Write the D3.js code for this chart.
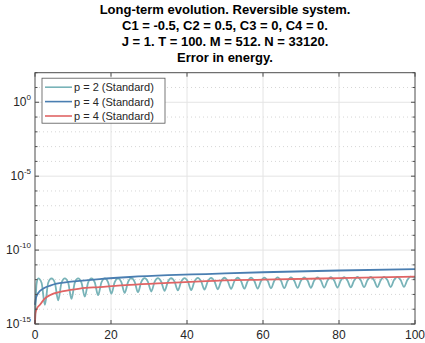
<!DOCTYPE html>
<html>
<head>
<meta charset="utf-8">
<script src="https://cdn.jsdelivr.net/npm/d3@7"></script>
<style>
  body { margin: 0; background: #fff; }
  text { font-family: "Liberation Sans", Arial, sans-serif; }
</style>
</head>
<body>
<div id="canvas"></div>
<script>
// title lines
const titleLines = [
  "Long-term evolution. Reversible system.",
  "C1 = -0.5, C2 = 0.5, C3 = 0, C4 = 0.",
  "J = 1. T = 100. M = 512. N = 33120.",
  "Error in energy."
];
const legendLabels = ["p = 2 (Standard)", "p = 4 (Standard)", "p = 4 (Standard)"];
const xTicks = [0, 20, 40, 60, 80, 100];
const yTickExps = [-15, -10, -5, 0];

// p = 2: [t, log10(error)] (shoulder, trough, shoulder, peak per swing)
const tealPts = [
  [0, -15], [0.4, -12.3], [0.85, -11.92],
  [1.725, -12.21], [2.6, -13.7], [3.475, -12.21], [4.35, -11.92],
  [5.225, -12.21], [6.1, -13.4], [6.975, -12.21], [7.85, -11.92],
  [8.725, -12.2], [9.6, -13.3], [10.475, -12.2], [11.35, -11.92],
  [12.225, -12.2], [13.1, -13.15], [13.975, -12.2], [14.85, -11.92],
  [15.725, -12.19], [16.6, -13.05], [17.475, -12.19], [18.35, -11.91],
  [19.225, -12.17], [20.1, -12.95], [20.975, -12.17], [21.85, -11.91],
  [22.725, -12.17], [23.6, -12.9], [24.475, -12.17], [25.35, -11.9],
  [26.225, -12.15], [27.1, -12.85], [27.975, -12.15], [28.85, -11.9],
  [29.725, -12.15], [30.6, -12.8], [31.475, -12.15], [32.35, -11.9],
  [33.225, -12.14], [34.1, -12.75], [34.975, -12.14], [35.85, -11.89],
  [36.725, -12.13], [37.6, -12.72], [38.475, -12.13], [39.35, -11.89],
  [40.225, -12.12], [41.1, -12.7], [41.975, -12.12], [42.85, -11.88],
  [43.725, -12.12], [44.6, -12.67], [45.475, -12.12], [46.35, -11.88],
  [47.225, -12.11], [48.1, -12.65], [48.975, -12.11], [49.85, -11.87],
  [50.725, -12.1], [51.6, -12.63], [52.475, -12.1], [53.35, -11.87],
  [54.225, -12.1], [55.1, -12.61], [55.975, -12.1], [56.85, -11.86],
  [57.725, -12.09], [58.6, -12.6], [59.475, -12.09], [60.35, -11.86],
  [61.225, -12.08], [62.1, -12.58], [62.975, -12.08], [63.85, -11.85],
  [64.725, -12.08], [65.6, -12.57], [66.475, -12.08], [67.35, -11.85],
  [68.225, -12.07], [69.1, -12.56], [69.975, -12.07], [70.85, -11.84],
  [71.725, -12.06], [72.6, -12.55], [73.475, -12.06], [74.35, -11.84],
  [75.225, -12.06], [76.1, -12.54], [76.975, -12.06], [77.85, -11.83],
  [78.725, -12.05], [79.6, -12.53], [80.475, -12.05], [81.35, -11.83],
  [82.225, -12.05], [83.1, -12.52], [83.975, -12.05], [84.85, -11.82],
  [85.725, -12.04], [86.6, -12.51], [87.475, -12.04], [88.35, -11.82],
  [89.225, -12.04], [90.1, -12.5], [90.975, -12.04], [91.85, -11.81],
  [92.725, -12.03], [93.6, -12.5], [94.475, -12.03], [95.35, -11.81],
  [96.225, -12.03], [97.1, -12.49], [97.975, -12.03], [98.85, -11.8],
  [100, -11.9]
];

// p = 4 (blue)
const blueT = [0, 0.3, 1, 2.2, 4, 5.7, 8, 11, 17, 25, 35, 45, 60, 80, 100];
const blueLog = [-13.7, -13.2, -12.85, -12.6, -12.4, -12.27, -12.18, -12.1, -11.96, -11.82, -11.7,
  -11.62, -11.5, -11.38, -11.29];

// p = 4 (red)
const redT = [0, 0.1, 0.4, 1.3, 2.5, 3.9, 7.5, 11.8, 17, 25, 35, 45, 60, 80, 100];
const redLog = [-15, -14.3, -14, -13.7, -13.3, -13.05, -12.78, -12.6, -12.5, -12.35, -12.22,
  -12.1, -12.0, -11.9, -11.8];

const colors = ["#78b3b8", "#4a7eb1", "#e06464"];

const width = 425, height = 343;
const margin = { top: 72.7, left: 35, bottom: 19, right: 10 };
const iwidth = width - margin.left - margin.right;
const iheight = height - margin.top - margin.bottom;

const svg = d3.select("#canvas").append("svg")
  .attr("width", width).attr("height", height);

const x = d3.scaleLinear().domain([0, 100]).range([0, iwidth]);
const y = d3.scaleLog().domain([1e-15, 1e2]).range([iheight, 0]);

const g = svg.append("g").attr("transform", `translate(${margin.left},${margin.top})`);

// minor grid (each decade)
const decades = d3.range(-14, 2);
g.selectAll("line.minor").data(decades.filter(e => e % 5 !== 0)).enter()
  .append("line").attr("class", "minor")
  .attr("x1", 0).attr("x2", iwidth)
  .attr("y1", d => y(Math.pow(10, d))).attr("y2", d => y(Math.pow(10, d)))
  .attr("stroke", "#d6d6d6").attr("stroke-dasharray", "1,3");

// major grid
g.selectAll("line.ymajor").data(yTickExps.slice(1)).enter()
  .append("line").attr("x1", 0).attr("x2", iwidth)
  .attr("y1", d => y(Math.pow(10, d))).attr("y2", d => y(Math.pow(10, d)))
  .attr("stroke", "#e4e4e4");
g.selectAll("line.xmajor").data(xTicks.slice(1, -1)).enter()
  .append("line").attr("y1", 0).attr("y2", iheight)
  .attr("x1", d => x(d)).attr("x2", d => x(d))
  .attr("stroke", "#e4e4e4");

// curves
const line = d3.line().x(d => x(d[0])).y(d => y(Math.pow(10, d[1]))).curve(d3.curveMonotoneX);
const series = [
  tealPts,
  blueT.map((t, j) => [t, blueLog[j]]),
  redT.map((t, j) => [t, redLog[j]])
];
series.forEach((s, i) => {
  g.append("path")
    .datum(s)
    .attr("fill", "none")
    .attr("stroke", colors[i])
    .attr("stroke-width", 1.8)
    .attr("d", line);
});

// box + ticks
const axisColor = "#4d4d4d";
g.append("rect").attr("width", iwidth).attr("height", iheight)
  .attr("fill", "none").attr("stroke", axisColor).attr("stroke-width", 1);

g.selectAll("line.xt").data(xTicks).enter().append("line")
  .attr("x1", d => x(d)).attr("x2", d => x(d))
  .attr("y1", iheight).attr("y2", iheight - 4).attr("stroke", axisColor);
g.selectAll("line.xtt").data(xTicks).enter().append("line")
  .attr("x1", d => x(d)).attr("x2", d => x(d))
  .attr("y1", 0).attr("y2", 4).attr("stroke", axisColor);

d3.range(-15, 3).forEach(e => {
  const len = e % 5 === 0 ? 4 : 2.5;
  const yy = y(Math.pow(10, e));
  g.append("line").attr("x1", 0).attr("x2", len).attr("y1", yy).attr("y2", yy).attr("stroke", axisColor);
  g.append("line").attr("x1", iwidth).attr("x2", iwidth - len).attr("y1", yy).attr("y2", yy).attr("stroke", axisColor);
});

// tick labels
g.selectAll("text.xl").data(xTicks).enter().append("text")
  .attr("x", d => x(d)).attr("y", iheight + 15)
  .attr("text-anchor", "middle").attr("font-size", 12).attr("fill", "#262626")
  .text(d => d);

yTickExps.forEach(e => {
  const t = g.append("text")
    .attr("x", -4).attr("y", y(Math.pow(10, e)) + 4)
    .attr("text-anchor", "end").attr("font-size", 12).attr("fill", "#262626");
  t.append("tspan").text("10");
  t.append("tspan").attr("font-size", 8).attr("dy", -6).text(e);
});

// legend
const lg = g.append("g").attr("transform", "translate(7,5.5)");
lg.append("rect").attr("width", 123).attr("height", 45)
  .attr("fill", "#fff").attr("stroke", "#555").attr("stroke-width", 0.8);
legendLabels.forEach((lab, i) => {
  const yy = 9 + i * 14.4;
  lg.append("line").attr("x1", 3).attr("x2", 30).attr("y1", yy).attr("y2", yy)
    .attr("stroke", colors[i]).attr("stroke-width", 1.6);
  lg.append("text").attr("x", 32).attr("y", yy + 4)
    .attr("font-size", 11).attr("fill", "#262626").text(lab);
});

// title
svg.selectAll("text.title").data(titleLines).enter().append("text")
  .attr("x", margin.left + iwidth / 2).attr("y", (d, i) => 13.5 + i * 16.3)
  .attr("text-anchor", "middle").attr("font-size", 13).attr("font-weight", "bold")
  .attr("fill", "#000").text(d => d);
</script>
</body>
</html>
